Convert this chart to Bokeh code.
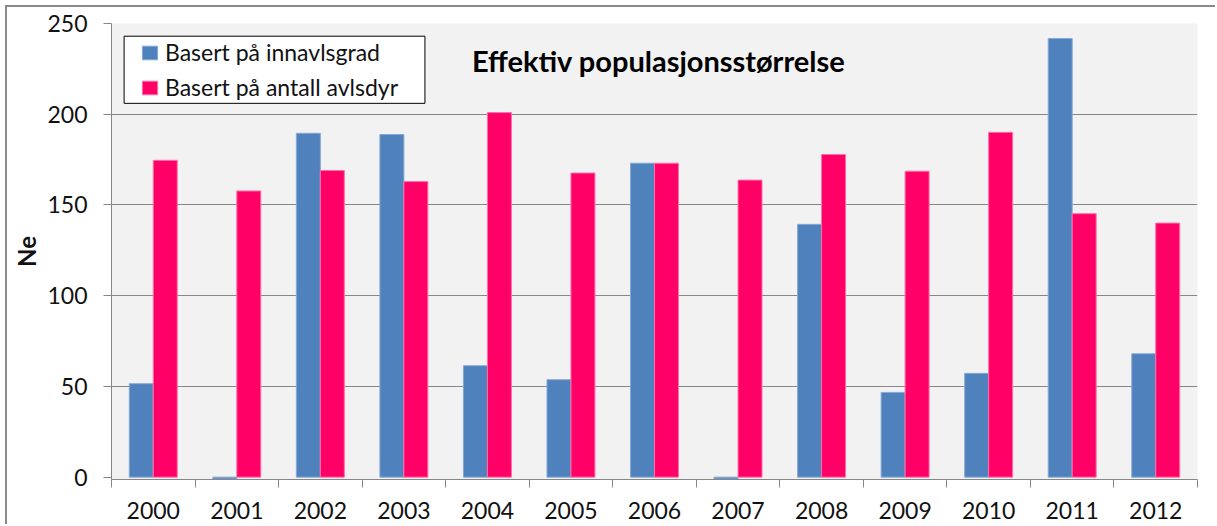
from bokeh.plotting import figure
from bokeh.models import (Range1d, LinearAxis, FixedTicker, BoxAnnotation,
                          Legend, LegendItem, Label, ColumnDataSource)
from bokeh.transform import dodge
from bokeh.embed import file_html
from bokeh.resources import INLINE

# ---- data ----
years = ["2000", "2001", "2002", "2003", "2004", "2005", "2006",
         "2007", "2008", "2009", "2010", "2011", "2012"]
innavlsgrad = [51.5, -1, 189.5, 188.8, 61.4, 53.7, 173, -1, 139.3, 46.7, 57.2, 241.7, 68]
antall_avlsdyr = [174.6, 157.7, 169, 162.9, 200.9, 167.6, 173, 163.7, 177.8, 168.6, 190, 145.2, 140]
y_ticks = [0, 50, 100, 150, 200, 250]
series_names = ["Basert på innavlsgrad", "Basert på antall avlsdyr"]
chart_title = "Effektiv populasjonsstørrelse"
y_label = "Ne"

FONT = "Lato"
TXT = "#111111"
GRID = "#878787"
BLUE = "#4F81BD"
PINK = "#FF0066"

n = len(years)
centres = [i + 0.5 for i in range(n)]
src = ColumnDataSource(dict(pos=centres, year=years, innavl=innavlsgrad, avl=antall_avlsdyr))

p = figure(x_range=Range1d(0, n),
           y_range=Range1d(-1.3, 250),
           width=1210, height=519,
           output_backend="svg", toolbar_location=None,
           x_axis_location=None,
           min_border_left=104, min_border_right=20,
           min_border_top=16, min_border_bottom=47)

# outer chart-area frame line (left and top edges)
p.styles = {"margin-left": "5px", "margin-top": "5px",
            "border-left": "2px solid #8a8a8a", "border-top": "2px solid #8a8a8a"}

p.background_fill_color = "#F2F2F2"
p.border_fill_color = "white"
p.outline_line_color = None

# y axis
yax = p.yaxis[0]
yax.ticker = FixedTicker(ticks=y_ticks)
yax.axis_line_color = GRID
yax.major_tick_line_color = GRID
yax.major_tick_out = 8
yax.major_tick_in = 0
yax.minor_tick_line_color = None
yax.major_label_standoff = 16
yax.major_label_text_font = FONT
yax.major_label_text_font_size = "23px"
yax.major_label_text_color = TXT
yax.axis_label = y_label
yax.axis_label_text_font = FONT
yax.axis_label_text_font_style = "bold"
yax.axis_label_text_font_size = "24px"
yax.axis_label_text_color = TXT
yax.axis_label_standoff = 3

p.ygrid.ticker = FixedTicker(ticks=y_ticks[1:])
p.ygrid.grid_line_color = GRID
p.ygrid.grid_line_width = 1
p.xgrid.visible = False

# x axes: tick marks at category boundaries + year labels at centres
tick_axis = LinearAxis(ticker=FixedTicker(ticks=list(range(n + 1))),
                       major_label_overrides={i: "" for i in range(n + 1)},
                       major_label_text_font_size="0px",
                       major_label_standoff=0,
                       major_tick_out=8, major_tick_in=0,
                       minor_tick_line_color=None,
                       axis_line_color=GRID, major_tick_line_color=GRID)
p.add_layout(tick_axis, "below")

label_axis = LinearAxis(ticker=FixedTicker(ticks=centres),
                        major_label_overrides={c: y for c, y in zip(centres, years)},
                        axis_line_color=None, major_tick_line_color=None,
                        minor_tick_line_color=None,
                        major_label_standoff=8,
                        major_label_text_font=FONT,
                        major_label_text_font_size="23px",
                        major_label_text_color=TXT)
p.add_layout(label_axis, "below")

# bars
bw = 0.287
r1 = p.vbar(x=dodge("pos", -bw / 2), top="innavl", width=bw, source=src,
            fill_color=BLUE, line_color="#86A8D6", line_width=1)
r2 = p.vbar(x=dodge("pos", bw / 2), top="avl", width=bw, source=src,
            fill_color=PINK, line_color="#FF6FA8", line_width=1)

# legend frame (white box with black border)
legend_box = BoxAnnotation(left=0.151, right=3.752, top=243, bottom=206,
                           fill_color="white", fill_alpha=1,
                           line_color="black", line_width=1, line_alpha=1)
p.add_layout(legend_box)

legend = Legend(items=[LegendItem(label=series_names[0], renderers=[r1]),
                       LegendItem(label=series_names[1], renderers=[r2])],
                location=(29, 378), margin=0,
                border_line_color=None, background_fill_alpha=0,
                label_text_font=FONT, label_text_font_size="23px", label_text_color=TXT,
                glyph_width=19, glyph_height=17, label_standoff=6,
                padding=0, spacing=7)
p.add_layout(legend)

title = Label(x=6.55, y=229.4, text=chart_title, text_align="center",
              text_baseline="middle", text_font=FONT, text_font_style="bold",
              text_font_size="29px", text_color="black")
p.add_layout(title)

open("out.html", "w").write(file_html(p, INLINE, "chart"))
